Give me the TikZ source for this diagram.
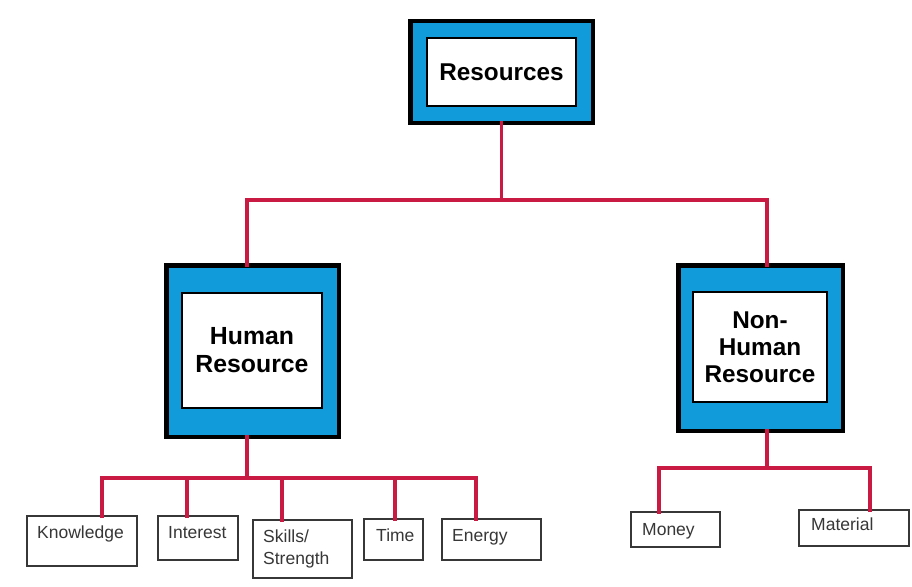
\documentclass[tikz,border=0pt]{standalone}
\usepackage{fontspec}
\setmainfont{Liberation Sans}
\definecolor{boxblue}{RGB}{18,155,218}
\definecolor{linkred}{RGB}{200,26,66}
\definecolor{smallgrey}{RGB}{55,55,55}
\begin{document}
\begin{tikzpicture}[x=1pt,y=-1pt,
  outerbox/.style={draw=black,line width=4.5pt,fill=boxblue,inner sep=0pt,outer sep=0pt},
  innerbox/.style={draw=black,line width=1.6pt,fill=white,inner sep=0pt,outer sep=0pt,align=center,
    font=\fontsize{24.8}{28}\selectfont\bfseries},
  smallbox/.style={draw=smallgrey,line width=2pt,fill=white,inner sep=0pt,outer sep=0pt},
  smalltext/.style={anchor=base west,inner sep=0pt,text=smallgrey,font=\fontsize{17.5}{21}\selectfont,align=left},
  link/.style={draw=linkred,line width=3.2pt,line cap=rect}]
\useasboundingbox[fill=white] (0,0) rectangle (912,586);

% main boxes
\node[outerbox,minimum width=182.5pt,minimum height=101.5pt] (resout) at (501.5,72) {};
\node[innerbox,minimum width=149.5pt,minimum height=68.5pt,font=\fontsize{24.3}{28}\selectfont\bfseries] (res) at (501.5,72) {Resources};

\node[outerbox,minimum width=172.5pt,minimum height=171.5pt] (hrout) at (252.5,351) {};
\node[innerbox,minimum width=140.5pt,minimum height=115.5pt] (hr) at (252,350.5) {Human\\Resource};

\node[outerbox,minimum width=164.5pt,minimum height=165.5pt] (nhout) at (760.5,348) {};
\node[innerbox,minimum width=134.5pt,minimum height=110.5pt,font=\fontsize{24.3}{26.8}\selectfont\bfseries] (nh) at (760,347) {Non-\\Human\\Resource};

% small boxes
\node[smallbox,minimum width=110pt,minimum height=50pt] (know) at (82,541) {};
\node[smallbox,minimum width=80pt,minimum height=44pt] (inter) at (198,538) {};
\node[smallbox,minimum width=99pt,minimum height=58pt] (skill) at (302.5,549) {};
\node[smallbox,minimum width=59pt,minimum height=41pt] (time) at (393.5,539.5) {};
\node[smallbox,minimum width=99pt,minimum height=41pt] (energy) at (491.5,539.5) {};
\node[smallbox,minimum width=89pt,minimum height=35pt] (money) at (675.5,529.5) {};
\node[smallbox,minimum width=110pt,minimum height=36pt] (mat) at (854,528) {};

% small texts
\node[smalltext] (tknow) at (37,538) {Knowledge};
\node[smalltext] (tinter) at (168,538) {Interest};
\node[smalltext] (tskill1) at (263,542) {Skills/};
\node[smalltext] (tskill2) at (263,564) {Strength};
\node[smalltext] (ttime) at (376,541) {Time};
\node[smalltext] (tenergy) at (452,541) {Energy};
\node[smalltext] (tmoney) at (642,535) {Money};
\node[smalltext] (tmat) at (811,530) {Material};

% junctions
\coordinate (j1) at (501.5,200);
\coordinate (j2) at (247,478);
\coordinate (j3) at (767,468);

% connectors
\draw[link] (resout.south) -- (j1);
\draw[link] ([xshift=-5.5pt]hrout.north) |- (j1) -| ([xshift=6.5pt]nhout.north);
\draw[link] ([xshift=-5.5pt]hrout.south) -- (j2);
\draw[link] ([xshift=20pt]know.north) |- (j2) -| ([xshift=-15.5pt]energy.north);
\draw[link] ([xshift=-11pt]inter.north) -- ([xshift=-11pt]inter.north |- j2);
\draw[link] ([xshift=-20.5pt]skill.north) -- ([xshift=-20.5pt]skill.north |- j2);
\draw[link] ([xshift=1.5pt]time.north) -- ([xshift=1.5pt]time.north |- j2);
\draw[link] ([xshift=6.5pt]nhout.south) -- (j3);
\draw[link] ([xshift=-16.5pt]money.north) |- (j3) -| ([xshift=16pt]mat.north);
\end{tikzpicture}
\end{document}
